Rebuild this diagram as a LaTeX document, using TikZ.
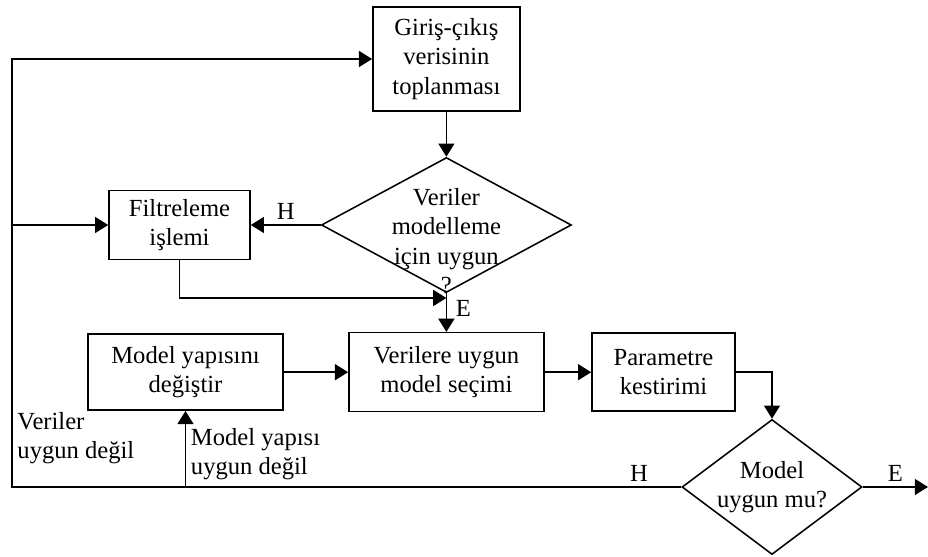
\documentclass[tikz,border=0pt]{standalone}
\usepackage{fontspec}
\setmainfont{Liberation Serif}
\usetikzlibrary{shapes.geometric,arrows.meta}

\tikzset{
  kutu/.style={draw, line width=1.1pt, align=center},
  karar/.style={draw, diamond, line width=1.1pt, inner sep=0pt},
  ok/.style={line width=1.1pt, -{Triangle[length=0.33cm,width=0.4cm]}}
}

\begin{document}
\begin{tikzpicture}[font=\fontsize{17.5}{21}\selectfont]
        \useasboundingbox (0,0) rectangle (23.2,13.925);
        % kutular
        \node[kutu, minimum width=3.675cm, minimum height=2.6cm] (giris) at (11.16,12.45) {Giriş-çıkış\\verisinin\\toplanması};
        \node[karar, minimum width=6.25cm, minimum height=3.375cm,
              label={[align=center, yshift=-0.4cm]center:Veriler\\modelleme\\için uygun\\?}] (k1) at (11.16,8.3) {};
        \node[kutu, minimum width=3.525cm, minimum height=1.725cm] (filtre) at (4.4875,8.3) {Filtreleme\\işlemi};
        \node[kutu, minimum width=4.875cm, minimum height=1.9cm] (degistir) at (4.6375,4.62) {Model yapısını\\değiştir};
        \node[kutu, minimum width=4.875cm, minimum height=1.975cm] (secim) at (11.16,4.62) {Verilere uygun\\model seçimi};
        \node[kutu, minimum width=3.575cm, minimum height=1.95cm] (param) at (16.5875,4.62) {Parametre\\kestirimi};
        \node[karar, minimum width=4.5cm, minimum height=3.375cm,
              label={[align=center]center:Model\\uygun mu?}] (k2) at (19.3,1.75) {};
        \coordinate (sol) at (0.3,1.75);
        \coordinate (birles) at (11.16,6.475);
        \coordinate (cikis) at (23.2,1.75);
        % oklar
        \draw[ok] (giris) -- (k1);
        \draw[ok] (k1.west) -- node[above] {H} (filtre.east);
        \draw[ok] (filtre.south) |- (birles);
        \draw[ok] (k1.south) -- node[right, pos=0.4, xshift=0.1cm] {E} (secim.north);
        \draw[ok] (degistir) -- (secim);
        \draw[ok] (secim) -- (param);
        \draw[ok] (param.east) -| (k2.north);
        \draw[ok] (k2.east) -- node[above] {E} (cikis);
        \draw[ok] (k2.west) -- node[above, pos=0.063] {H} (sol)
                -- node[right, align=left, pos=0.114] {Veriler\\uygun değil} (sol |- giris.west) -- (giris.west);
        \draw[ok] (degistir.south |- sol) -- node[right, align=left, pos=0.43] {Model yapısı\\uygun değil} (degistir.south);
        \draw[ok] (sol |- filtre.west) -- (filtre.west);
      \end{tikzpicture}
\end{document}
